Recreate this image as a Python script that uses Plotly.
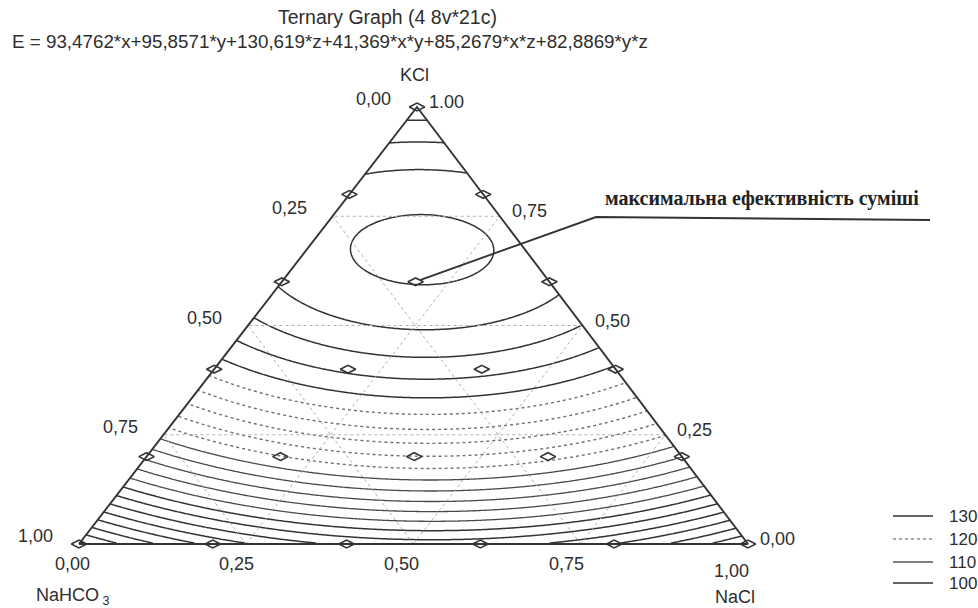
import numpy as np
import plotly.graph_objects as go

# ---------------- data ----------------
title_text = "Ternary Graph (4 8v*21c)"
equation_text = "E = 93,4762*x+95,8571*y+130,619*z+41,369*x*y+85,2679*x*z+82,8869*y*z"
# fitted model coefficients (x = NaHCO3, y = NaCl, z = KCl)
coef_x, coef_y, coef_z = 93.4762, 95.8571, 130.619
coef_xy, coef_xz, coef_yz = 41.369, 85.2679, 82.8869
level_start, level_end, level_step = 94, 138, 2

# 21 design points (fractions)
design_nahco3 = [0, 0.2, 0, 0.4, 0.2, 0, 0.6, 0.4, 0.2, 0, 0.8, 0.6, 0.4, 0.2, 0,
                 1.0, 0.8, 0.6, 0.4, 0.2, 0]
design_nacl = [0, 0, 0.2, 0, 0.2, 0.4, 0, 0.2, 0.4, 0.6, 0, 0.2, 0.4, 0.6, 0.8,
               0, 0.2, 0.4, 0.6, 0.8, 1.0]
design_kcl = [1.0, 0.8, 0.8, 0.6, 0.6, 0.6, 0.4, 0.4, 0.4, 0.4, 0.2, 0.2, 0.2, 0.2, 0.2,
              0, 0, 0, 0, 0, 0]

tick_values = [0, 0.25, 0.5, 0.75, 1.0]
left_tick_text = ["0,00", "0,25", "0,50", "0,75", "1,00"]     # NaHCO3
right_tick_text = ["0,00", "0,25", "0,50", "0,75", "1.00"]    # KCl
bottom_tick_text = ["0,00", "0,25", "0,50", "0,75", "1,00"]   # NaCl
grid_values = [0.25, 0.5, 0.75]

legend_levels = ["130", "120", "110", "100"]
legend_dash = ["solid", "dot", "solid", "solid"]
legend_color = ["#333333", "#8a8a8a", "#555555", "#333333"]

note_text = "максимальна ефективність суміші"
note_point = 4  # index of the design point marked as the optimum

# ---------------- geometry (pixel frame) ----------------
AX, AY = 79.0, 544.0    # NaHCO3 vertex
BX, BY = 748.0, 544.0   # NaCl vertex
CX, CY = 417.0, 107.0   # KCl vertex


def to_px(a, n, k):
    a, n, k = np.asarray(a, float), np.asarray(n, float), np.asarray(k, float)
    return a * AX + n * BX + k * CX, a * AY + n * BY + k * CY


INK = "#333333"
fig = go.Figure()

# contour grid
gx = np.arange(AX - 2, BX + 3, 2.0)
gy = np.arange(CY - 2, AY + 3, 2.0)
PX, PY = np.meshgrid(gx, gy)
K = (AY - PY) / (AY - CY)
N = (PX - AX - (CX - AX) * K) / (BX - AX)
A = 1 - N - K
E = (coef_x * A + coef_y * N + coef_z * K + coef_xy * A * N
     + coef_xz * A * K + coef_yz * N * K)
tol = 0.0015
E = np.where((A >= -tol) & (N >= -tol) & (K >= -tol), np.round(E, 3), np.nan)


def add_contours(start, end, color, dash, width):
    fig.add_trace(go.Contour(
        x=gx, y=gy, z=E,
        contours=dict(start=start, end=end, size=level_step, coloring="lines"),
        colorscale=[[0, color], [1, color]], showscale=False,
        line=dict(width=width, dash=dash, smoothing=1),
        hoverinfo="skip", connectgaps=False))


add_contours(level_start, 108, INK, "solid", 1.5)
add_contours(110, 118, "#4a4a4a", "solid", 1.3)
add_contours(120, 128, "#707070", "dot", 1.4)
add_contours(130, level_end, INK, "solid", 1.5)

# dotted grid lines
for g in grid_values:
    for (p0, p1) in [((0, 1 - g, g), (1 - g, 0, g)),     # constant KCl
                     ((g, 1 - g, 0), (g, 0, 1 - g)),     # constant NaHCO3
                     ((1 - g, g, 0), (0, g, 1 - g))]:    # constant NaCl
        xs, ys = to_px([p0[0], p1[0]], [p0[1], p1[1]], [p0[2], p1[2]])
        fig.add_trace(go.Scatter(x=xs, y=ys, mode="lines",
                                 line=dict(color="#b0b0b0", width=1, dash="dot"),
                                 hoverinfo="skip", showlegend=False))

# triangle frame
fx, fy = to_px([1, 0, 0, 1], [0, 1, 0, 0], [0, 0, 1, 0])
fig.add_trace(go.Scatter(x=fx, y=fy, mode="lines",
                         line=dict(color=INK, width=1.9),
                         hoverinfo="skip", showlegend=False))

# design points
dx, dy = to_px(design_nahco3, design_nacl, design_kcl)
fig.add_trace(go.Scatter(x=dx, y=dy, mode="markers",
                         marker=dict(symbol="diamond-wide-open", size=11,
                                     color=INK, line=dict(width=1.6, color=INK)),
                         hoverinfo="skip", showlegend=False))

annotations = []
SANS = "Liberation Sans, Arial, sans-serif"
font = dict(family=SANS, size=18, color="#2e2e2e")

# tick labels
tv = np.array(tick_values)
lx, ly = to_px(tv, 0 * tv, 1 - tv)          # left edge, NaHCO3 fraction
for x, y, t in zip(lx, ly, left_tick_text):
    annotations.append(dict(x=x - 24, y=y - 8, text=t, xanchor="right",
                            yanchor="middle", showarrow=False, font=font))
rx, ry = to_px(0 * tv, 1 - tv, tv)          # right edge, KCl fraction
for x, y, t in zip(rx, ry, right_tick_text):
    annotations.append(dict(x=x + 10, y=y - 5, text=t, xanchor="left",
                            yanchor="middle", showarrow=False, font=font))
for i, (v, t) in enumerate(zip(tick_values, bottom_tick_text)):
    annotations.append(dict(x=72 + 659 * v, y=564 if i < 4 else 571, text=t,
                            xanchor="center", yanchor="middle", showarrow=False,
                            font=font))

# axis titles
annotations.append(dict(x=414, y=75, text="KCl", showarrow=False, font=font,
                        yanchor="middle"))
annotations.append(dict(x=34, y=596, text="NaHCO<sub> 3</sub>", xanchor="left",
                        yanchor="middle", showarrow=False, font=font))
annotations.append(dict(x=735, y=597, text="NaCl", xanchor="center",
                        yanchor="middle", showarrow=False, font=font))

# titles
annotations.append(dict(x=387, y=17, text=title_text, showarrow=False,
                        yanchor="middle", font=dict(family=SANS, size=19.5,
                                                    color="#2e2e2e")))
annotations.append(dict(x=10, y=41, text=equation_text, xanchor="left",
                        yanchor="middle", showarrow=False,
                        font=dict(family=SANS, size=18.8, color="#2e2e2e")))

# optimum note
annotations.append(dict(x=603, y=198, text="<b>" + note_text + "</b>", xanchor="left",
                        yanchor="middle", showarrow=False,
                        font=dict(family="Liberation Serif, Times New Roman, serif",
                                  size=20, color="#222222")))

shapes = []
ox, oy = dx[note_point], dy[note_point]
shapes.append(dict(type="path", xref="x", yref="y",
                   path=f"M {ox + 5} {oy - 2} L 596 217 L 930 220",
                   line=dict(color=INK, width=1.9)))

# legend
legend_y = [516, 539, 562, 583]
for lab, dsh, col, yy in zip(legend_levels, legend_dash, legend_color, legend_y):
    shapes.append(dict(type="line", xref="x", yref="y", x0=893, x1=933, y0=yy, y1=yy,
                       line=dict(color=col, width=1.5, dash=dsh)))
    annotations.append(dict(x=947, y=yy, text=lab, xanchor="left", yanchor="middle",
                            showarrow=False,
                            font=dict(family=SANS, size=17, color="#2e2e2e")))

fig.update_layout(
    width=978, height=608,
    margin=dict(l=0, r=0, t=0, b=0),
    paper_bgcolor="white", plot_bgcolor="white",
    showlegend=False,
    xaxis=dict(range=[0, 978], visible=False, fixedrange=True),
    yaxis=dict(range=[608, 0], visible=False, fixedrange=True),
    annotations=annotations, shapes=shapes,
)

fig.write_html("out.html", config={"displayModeBar": False},
               post_script="document.body.style.margin='0px';")
